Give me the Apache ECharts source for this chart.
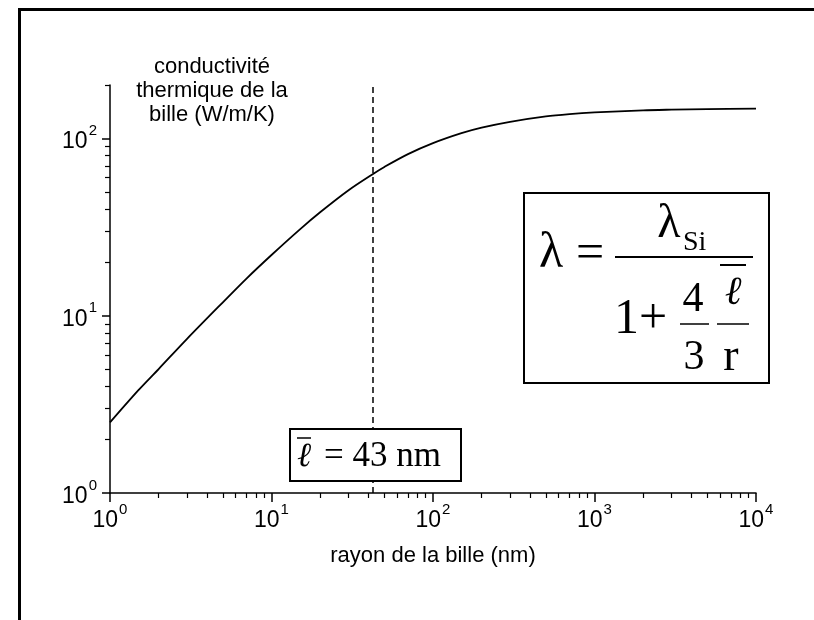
<!DOCTYPE html>
<html>
<head>
<meta charset="utf-8">
<script src="https://cdn.jsdelivr.net/npm/echarts@6/dist/echarts.min.js"></script>
<style>
  html, body { margin: 0; padding: 0; background: #fff; }
  #chart { width: 814px; height: 620px; }
</style>
</head>
<body>
<div id="chart"></div>
<script>
// rayon de la bille (nm) et conductivité (W/m/K)
var radius = [1, 1.5, 2, 3, 5, 7, 10, 15, 20, 30, 43, 50, 70, 100, 150, 200, 300, 500, 700, 1000, 2000, 3000, 5000, 10000];
var conductivity = [2.5, 3.8, 5.0, 7.4, 11.9, 16.2, 22, 30.7, 38.3, 51, 63.4, 69, 81.5, 94, 107, 115, 124, 133, 137, 140, 144, 145.2, 146.3, 147.2];
var xDecades = [0, 1, 2, 3, 4];
var yDecades = [0, 1, 2];
var minorSteps = [2, 3, 4, 5, 6, 7, 8, 9];
var yTop = 200;
var meanFreePath = 43;

var SANS = '"Liberation Sans", Arial, sans-serif';
var SERIF = '"Liberation Serif", "Times New Roman", serif';

function minors(decades) {
    var out = [];
    decades.forEach(function (d) {
        minorSteps.forEach(function (m) { out.push(d + Math.log10(m)); });
    });
    return out;
}

var yMaxLog = Math.log10(yTop);
var xMinor = minors(xDecades.slice(0, -1));
var yMinor = minors(yDecades).filter(function (v) { return v <= yMaxLog + 1e-9; });

var seriesData = radius.map(function (r, i) {
    return [Math.log10(r), Math.log10(conductivity[i])];
});

var powLabel = {
    formatter: function (v) { return '{b|10}{s|' + Math.round(v) + '}'; },
    rich: {
        b: { fontSize: 23, fontFamily: SANS, color: '#000', lineHeight: 30, verticalAlign: 'bottom' },
        s: { fontSize: 15, fontFamily: SANS, color: '#000', verticalAlign: 'top', padding: [0, 0, 0, 1] }
    }
};

var mychart = echarts.init(document.getElementById('chart'));
var option = {
    animation: false,
    backgroundColor: '#fff',
    grid: { left: 110, right: 58, top: 85, bottom: 127 },
    xAxis: [{
        type: 'value', min: 0, max: 4, interval: 1, position: 'bottom',
        axisLine: { lineStyle: { color: '#000', width: 1.5 } },
        axisTick: { show: true, inside: false, length: 9, customValues: xDecades, lineStyle: { color: '#000', width: 1.5 } },
        axisLabel: Object.assign({ customValues: xDecades, margin: 9 }, powLabel),
        splitLine: { show: false }
    }, {
        type: 'value', min: 0, max: 4, position: 'bottom', gridIndex: 0,
        axisLine: { show: false },
        axisTick: { show: true, inside: false, length: 5, customValues: xMinor, lineStyle: { color: '#000', width: 1.2 } },
        axisLabel: { show: false },
        splitLine: { show: false }
    }],
    yAxis: [{
        type: 'value', min: 0, max: yMaxLog, interval: 1, position: 'left',
        axisLine: { show: true, lineStyle: { color: '#000', width: 1.5 } },
        axisTick: { show: true, inside: false, length: 8, customValues: yDecades, lineStyle: { color: '#000', width: 1.5 } },
        axisLabel: Object.assign({ customValues: yDecades, margin: 13 }, powLabel),
        splitLine: { show: false }
    }, {
        type: 'value', min: 0, max: yMaxLog, position: 'left', gridIndex: 0,
        axisLine: { show: false },
        axisTick: { show: true, inside: false, length: 5, customValues: yMinor, lineStyle: { color: '#000', width: 1.2 } },
        axisLabel: { show: false },
        splitLine: { show: false }
    }],
    series: [{
        type: 'line',
        data: seriesData,
        smooth: 0.3,
        showSymbol: false,
        lineStyle: { color: '#000', width: 1.8 },
        markLine: {
            silent: true,
            symbol: 'none',
            label: { show: false },
            lineStyle: { color: '#000', type: [6, 4], width: 1.5 },
            data: [{ xAxis: Math.log10(meanFreePath) }]
        },
        z: 3
    }],
    graphic: [
        // cadre
        { type: 'polyline', shape: { points: [[19.5, 620], [19.5, 9.5], [814, 9.5]] }, style: { stroke: '#000', lineWidth: 3, fill: null }, z: 10 },
        // titres
        { type: 'text', x: 212, y: 91, style: { text: 'conductivité\nthermique de la\nbille (W/m/K)', font: '22px ' + SANS, fill: '#000', align: 'center', verticalAlign: 'middle', lineHeight: 24 }, z: 10 },
        { type: 'text', x: 433, y: 556, style: { text: 'rayon de la bille (nm)', font: '22px ' + SANS, fill: '#000', align: 'center', verticalAlign: 'middle' }, z: 10 },
        // boîte l = 43 nm
        { type: 'rect', shape: { x: 290, y: 429, width: 171, height: 52 }, style: { fill: '#fff', stroke: '#000', lineWidth: 2 }, z: 20 },
        { type: 'line', shape: { x1: 297, y1: 438, x2: 311, y2: 438 }, style: { stroke: '#000', lineWidth: 1.5 }, z: 21 },
        { type: 'text', x: 304, y: 457, style: { text: 'ℓ', font: 'italic 34px ' + SERIF, fill: '#000', align: 'center', verticalAlign: 'middle' }, z: 21 },
        { type: 'text', x: 324, y: 457, style: { text: '= 43 nm', font: '35px ' + SERIF, fill: '#000', align: 'left', verticalAlign: 'middle' }, z: 21 },
        // boîte formule
        { type: 'rect', shape: { x: 524, y: 193, width: 245, height: 190 }, style: { fill: '#fff', stroke: '#000', lineWidth: 2 }, z: 20 },
        { type: 'text', x: 551, y: 254, style: { text: 'λ', font: '50px ' + SERIF, fill: '#000', align: 'center', verticalAlign: 'middle' }, z: 21 },
        { type: 'text', x: 590, y: 255, style: { text: '=', font: '50px ' + SERIF, fill: '#000', align: 'center', verticalAlign: 'middle' }, z: 21 },
        { type: 'text', x: 669, y: 224, style: { text: 'λ', font: '48px ' + SERIF, fill: '#000', align: 'center', verticalAlign: 'middle' }, z: 21 },
        { type: 'text', x: 683, y: 243, style: { text: 'Si', font: '28px ' + SERIF, fill: '#000', align: 'left', verticalAlign: 'middle' }, z: 21 },
        { type: 'line', shape: { x1: 615, y1: 257, x2: 753, y2: 257 }, style: { stroke: '#000', lineWidth: 2 }, z: 21 },
        { type: 'text', x: 614, y: 320, style: { text: '1+', font: '50px ' + SERIF, fill: '#000', align: 'left', verticalAlign: 'middle' }, z: 21 },
        { type: 'text', x: 693, y: 300, style: { text: '4', font: '42px ' + SERIF, fill: '#000', align: 'center', verticalAlign: 'middle' }, z: 21 },
        { type: 'line', shape: { x1: 680, y1: 324, x2: 709, y2: 324 }, style: { stroke: '#000', lineWidth: 1.5 }, z: 21 },
        { type: 'text', x: 694, y: 358, style: { text: '3', font: '42px ' + SERIF, fill: '#000', align: 'center', verticalAlign: 'middle' }, z: 21 },
        { type: 'line', shape: { x1: 720, y1: 265, x2: 746, y2: 265 }, style: { stroke: '#000', lineWidth: 2 }, z: 21 },
        { type: 'text', x: 733, y: 293, style: { text: 'ℓ', font: 'italic 40px ' + SERIF, fill: '#000', align: 'center', verticalAlign: 'middle' }, z: 21 },
        { type: 'line', shape: { x1: 717, y1: 324, x2: 749, y2: 324 }, style: { stroke: '#000', lineWidth: 1.5 }, z: 21 },
        { type: 'text', x: 731, y: 358, style: { text: 'r', font: '46px ' + SERIF, fill: '#000', align: 'center', verticalAlign: 'middle' }, z: 21 }
    ]
};
mychart.setOption(option);
</script>
</body>
</html>
